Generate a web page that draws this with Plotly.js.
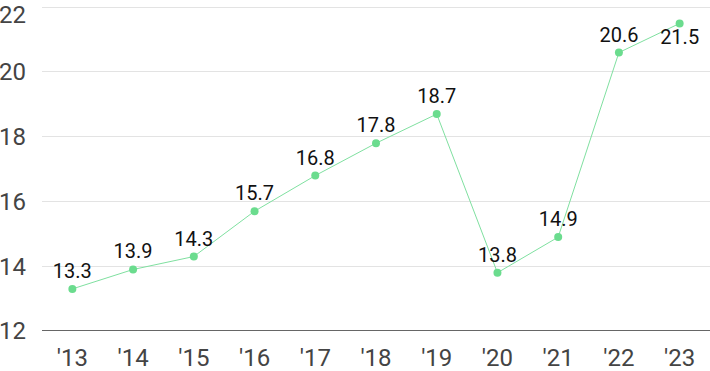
<!DOCTYPE html>
<html><head><meta charset="utf-8">
<script src="https://cdn.plot.ly/plotly-3.0.1.min.js"></script>
<style>html,body{margin:0;padding:0;background:#fff}#chart{width:710px;height:371px}</style>
</head><body><div id="chart"></div>
<script>
const years = ["'13","'14","'15","'16","'17","'18","'19","'20","'21","'22","'23"];
const values = [13.3,13.9,14.3,15.7,16.8,17.8,18.7,13.8,14.9,20.6,21.5];
const labelPos = ["top center","top center","top center","top center","top center","top center","top center","top center","top center","top center","bottom center"];
const yTicks = [12,14,16,18,20,22];
const topTick = yTicks[yTicks.length - 1];

Plotly.newPlot('chart', [{
  x: years, y: values, type: 'scatter', mode: 'lines+markers+text',
  text: values.map(v => v.toFixed(1)), textposition: labelPos,
  textfont: {family: 'Roboto, sans-serif', size: 20, color: '#111'},
  line: {color: '#7fe0a0', width: 1},
  marker: {color: '#6bdc8e', size: 8},
  cliponaxis: false, hoverinfo: 'skip'
}], {
  width: 710, height: 371,
  margin: {l: 42, r: 0, t: 4, b: 40},
  paper_bgcolor: '#fff', plot_bgcolor: '#fff',
  showlegend: false,
  font: {family: 'Roboto, sans-serif', color: '#444'},
  xaxis: {type: 'category', range: [-0.5, 10.5], showgrid: false, zeroline: false,
    showline: false, ticks: '', ticklabelstandoff: 10, tickfont: {size: 24, color: '#444'}, fixedrange: true},
  yaxis: {range: [12, 22.1], tickmode: 'array', tickvals: yTicks,
    ticktext: yTicks.map(v => v === topTick ? '' : String(v)),
    showgrid: true, gridcolor: '#e3e3e3', gridwidth: 1, zeroline: false,
    showline: false, ticks: '', ticklabelstandoff: 15, tickfont: {size: 24, color: '#444'}, fixedrange: true},
  annotations: [{xref: 'paper', yref: 'paper', x: 0, y: 1, xanchor: 'right', yanchor: 'top',
    xshift: -15, yshift: 4, borderpad: 0, text: String(topTick), showarrow: false,
    font: {family: 'Roboto, sans-serif', size: 24, color: '#444'}}],
  shapes: [{type: 'line', xref: 'paper', yref: 'y', x0: 0, x1: 1, y0: 12, y1: 12, line: {color: '#333', width: 1.5}}]
}, {displayModeBar: false, staticPlot: true});
</script></body></html>
